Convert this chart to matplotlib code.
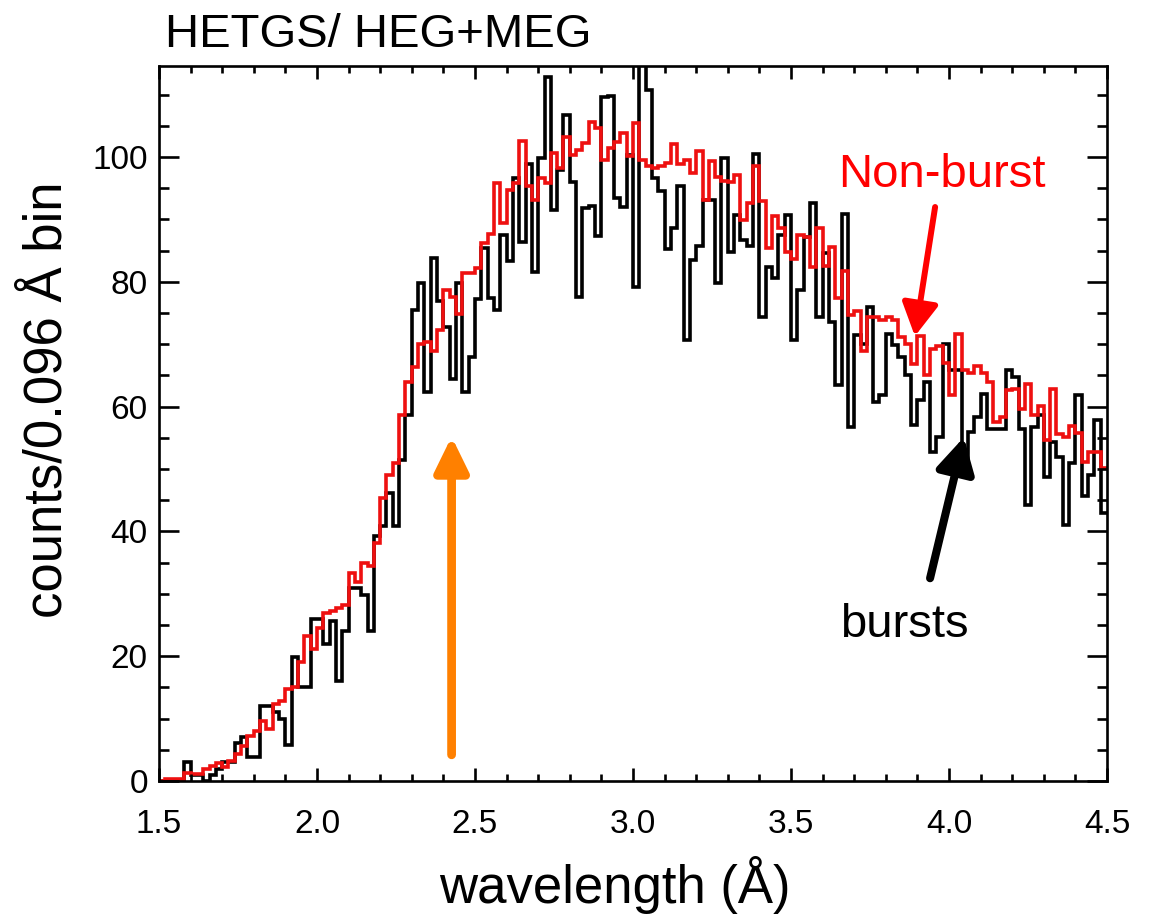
import numpy as np
import matplotlib
matplotlib.use("Agg")
import matplotlib.pyplot as plt
from matplotlib.ticker import MultipleLocator, FormatStrFormatter

# Wavelength grid (Angstrom): 150 bins of 0.02 A starting at 1.5 A
wave_start = 1.5
bin_width = 0.02

# Counts per bin during bursts
burst_counts = [
    0, 0, 0, 0, 3, 1, 1, 0, 1, 2,
    3, 3, 6.1, 7.1, 3.9, 3.9, 12, 12, 11, 10,
    5.8, 19.9, 15, 15, 26, 26, 21.9, 25.7, 16, 24,
    30.9, 30.9, 29.8, 24, 39.2, 40.8, 46.1, 40.8, 51.4, 58.7,
    75.5, 79.9, 62.4, 83.8, 77, 72.8, 64.4, 79.9, 62.4, 67.9,
    77.2, 85.4, 77.4, 75.5, 87.5, 83.3, 96.6, 86.4, 98.9, 81.6,
    99.8, 112.8, 91.5, 97.9, 106.7, 96, 77.6, 91.8, 92.2, 87.3,
    109.7, 109.8, 93.5, 92, 100.3, 79.2, 120, 110.7, 96.7, 94.6,
    85.2, 88.6, 95.3, 70.7, 83.5, 85.7, 93.1, 93.1, 79.8, 99.8,
    84.8, 90.7, 86.7, 85.7, 100.5, 74.4, 82.4, 80.6, 87.5, 90.7,
    70.7, 78.7, 87.2, 92.7, 74.4, 84.6, 73.5, 63.5, 90.9, 56.8,
    71.5, 70, 76, 60.8, 61.9, 71.7, 69.9, 68, 65.1, 57,
    61.1, 64, 52.8, 55.2, 70, 65.9, 65.9, 49.6, 56, 58.4,
    62.1, 56.5, 56.5, 56.5, 65.9, 64.8, 56.5, 44.2, 56.8, 58.7,
    48.8, 54.4, 52, 41, 50.9, 61.9, 45.7, 49, 57.9, 42.9,
]

# Counts per bin outside bursts (scaled)
nonburst_counts = [
    0, 0.3, 0.3, 0.3, 1.3, 1.1, 1.2, 1.9, 2.4, 2.9,
    2.2, 3.2, 4.3, 5.6, 7.2, 8, 9.6, 8.3, 12.3, 12.8,
    14.7, 15, 19, 23.3, 21.1, 24.6, 27, 27.3, 27.8, 28.2,
    33.3, 31.9, 34.9, 34.5, 38.1, 45.3, 49, 50.9, 58.7, 64,
    66.4, 70.1, 70.4, 69, 72.3, 78.7, 77.6, 74.8, 81.5, 81.4,
    82.3, 86.2, 87.7, 95.9, 89.4, 94.7, 95.9, 102.6, 95.4, 93.1,
    96.7, 95.9, 100.7, 98.2, 103.2, 100.3, 101.2, 102.3, 105.7, 104.6,
    99.6, 101.4, 102.5, 103.8, 100.1, 105.4, 99.6, 98.6, 98.3, 98.6,
    99, 102.1, 98.9, 99.6, 97.5, 101, 93.1, 99.4, 96.8, 96.2,
    96, 97.1, 89.9, 92.6, 98.5, 93, 85.4, 90.5, 88.6, 84.8,
    83.6, 87.5, 87.2, 82.4, 88.6, 82.5, 85.6, 77.4, 81.8, 74.7,
    75.4, 69, 74.4, 74.4, 73.9, 74.4, 73.9, 71.2, 70.1, 66.9,
    71.3, 65.1, 69.3, 69.7, 67, 61.9, 71.6, 65.9, 65.4, 66.5,
    65.4, 64, 57.6, 58.3, 62.7, 62.9, 59.7, 63.7, 58.7, 60.1,
    54.6, 62.9, 55.7, 55.2, 56.9, 55.8, 51.2, 52.8, 52.8, 50.1,
]

title_text = "HETGS/ HEG+MEG"
xlabel_text = "wavelength (\u00c5)"
ylabel_text = "counts/0.096 \u00c5 bin"

plt.rcParams["font.family"] = ["Liberation Sans", "DejaVu Sans"]

fig = plt.figure(figsize=(11.51, 9.18), dpi=100)
ax = fig.add_axes([0.1381, 0.1492, 0.8237, 0.7789])

edges = wave_start + bin_width * np.arange(len(burst_counts) + 1)

ax.stairs(burst_counts, edges, baseline=None, color="black", lw=2.6)
ax.stairs(nonburst_counts, edges, baseline=None, color="#ee1010", lw=2.6)

ax.set_xlim(1.5, 4.5)
ax.set_ylim(0, 114.6)

ax.xaxis.set_major_locator(MultipleLocator(0.5))
ax.xaxis.set_minor_locator(MultipleLocator(0.1))
ax.xaxis.set_major_formatter(FormatStrFormatter("%.1f"))
ax.yaxis.set_major_locator(MultipleLocator(20))
ax.yaxis.set_minor_locator(MultipleLocator(5))

ax.tick_params(axis="both", which="both", direction="in", top=True, right=True,
               width=1.9, labelsize=24)
ax.tick_params(axis="x", which="major", length=9.5, pad=20)
ax.tick_params(axis="x", which="minor", length=5)
ax.tick_params(axis="y", which="major", length=14.5, pad=8)
ax.tick_params(axis="y", which="minor", length=7)
for sp in ax.spines.values():
    sp.set_linewidth(1.9)

fig.text(0.1434, 0.9488, title_text, fontsize=34, ha="left", va="baseline")
fig.text(0.5343, 0.036, xlabel_text, fontsize=38, ha="center", va="center")
fig.text(0.0417, 0.5643, ylabel_text, fontsize=38, ha="center", va="center",
         rotation=90)

# Labels for the two spectra
ax.text(3.649, 95.2, "Non-burst", color="red", fontsize=34, ha="left",
        va="baseline")
ax.text(3.655, 23.1, "bursts", color="black", fontsize=34, ha="left",
        va="baseline")

# Arrows
ax.annotate("", xy=(3.892, 71.3), xytext=(3.956, 92.0),
            arrowprops=dict(arrowstyle="-|>,head_length=0.45,head_width=0.25",
                            color="red", lw=4.3, mutation_scale=44,
                            shrinkA=0, shrinkB=0))
ax.annotate("", xy=(4.047, 55.1), xytext=(3.940, 32.5),
            arrowprops=dict(arrowstyle="-|>,head_length=0.45,head_width=0.25",
                            color="black", lw=5.8, mutation_scale=46,
                            shrinkA=0, shrinkB=0))
ax.annotate("", xy=(2.426, 55.2), xytext=(2.426, 4.2),
            arrowprops=dict(arrowstyle="-|>,head_length=0.45,head_width=0.22",
                            color="#ff8000", lw=6.3, mutation_scale=46,
                            shrinkA=0, shrinkB=0))

fig.savefig("out.png", dpi=100)
